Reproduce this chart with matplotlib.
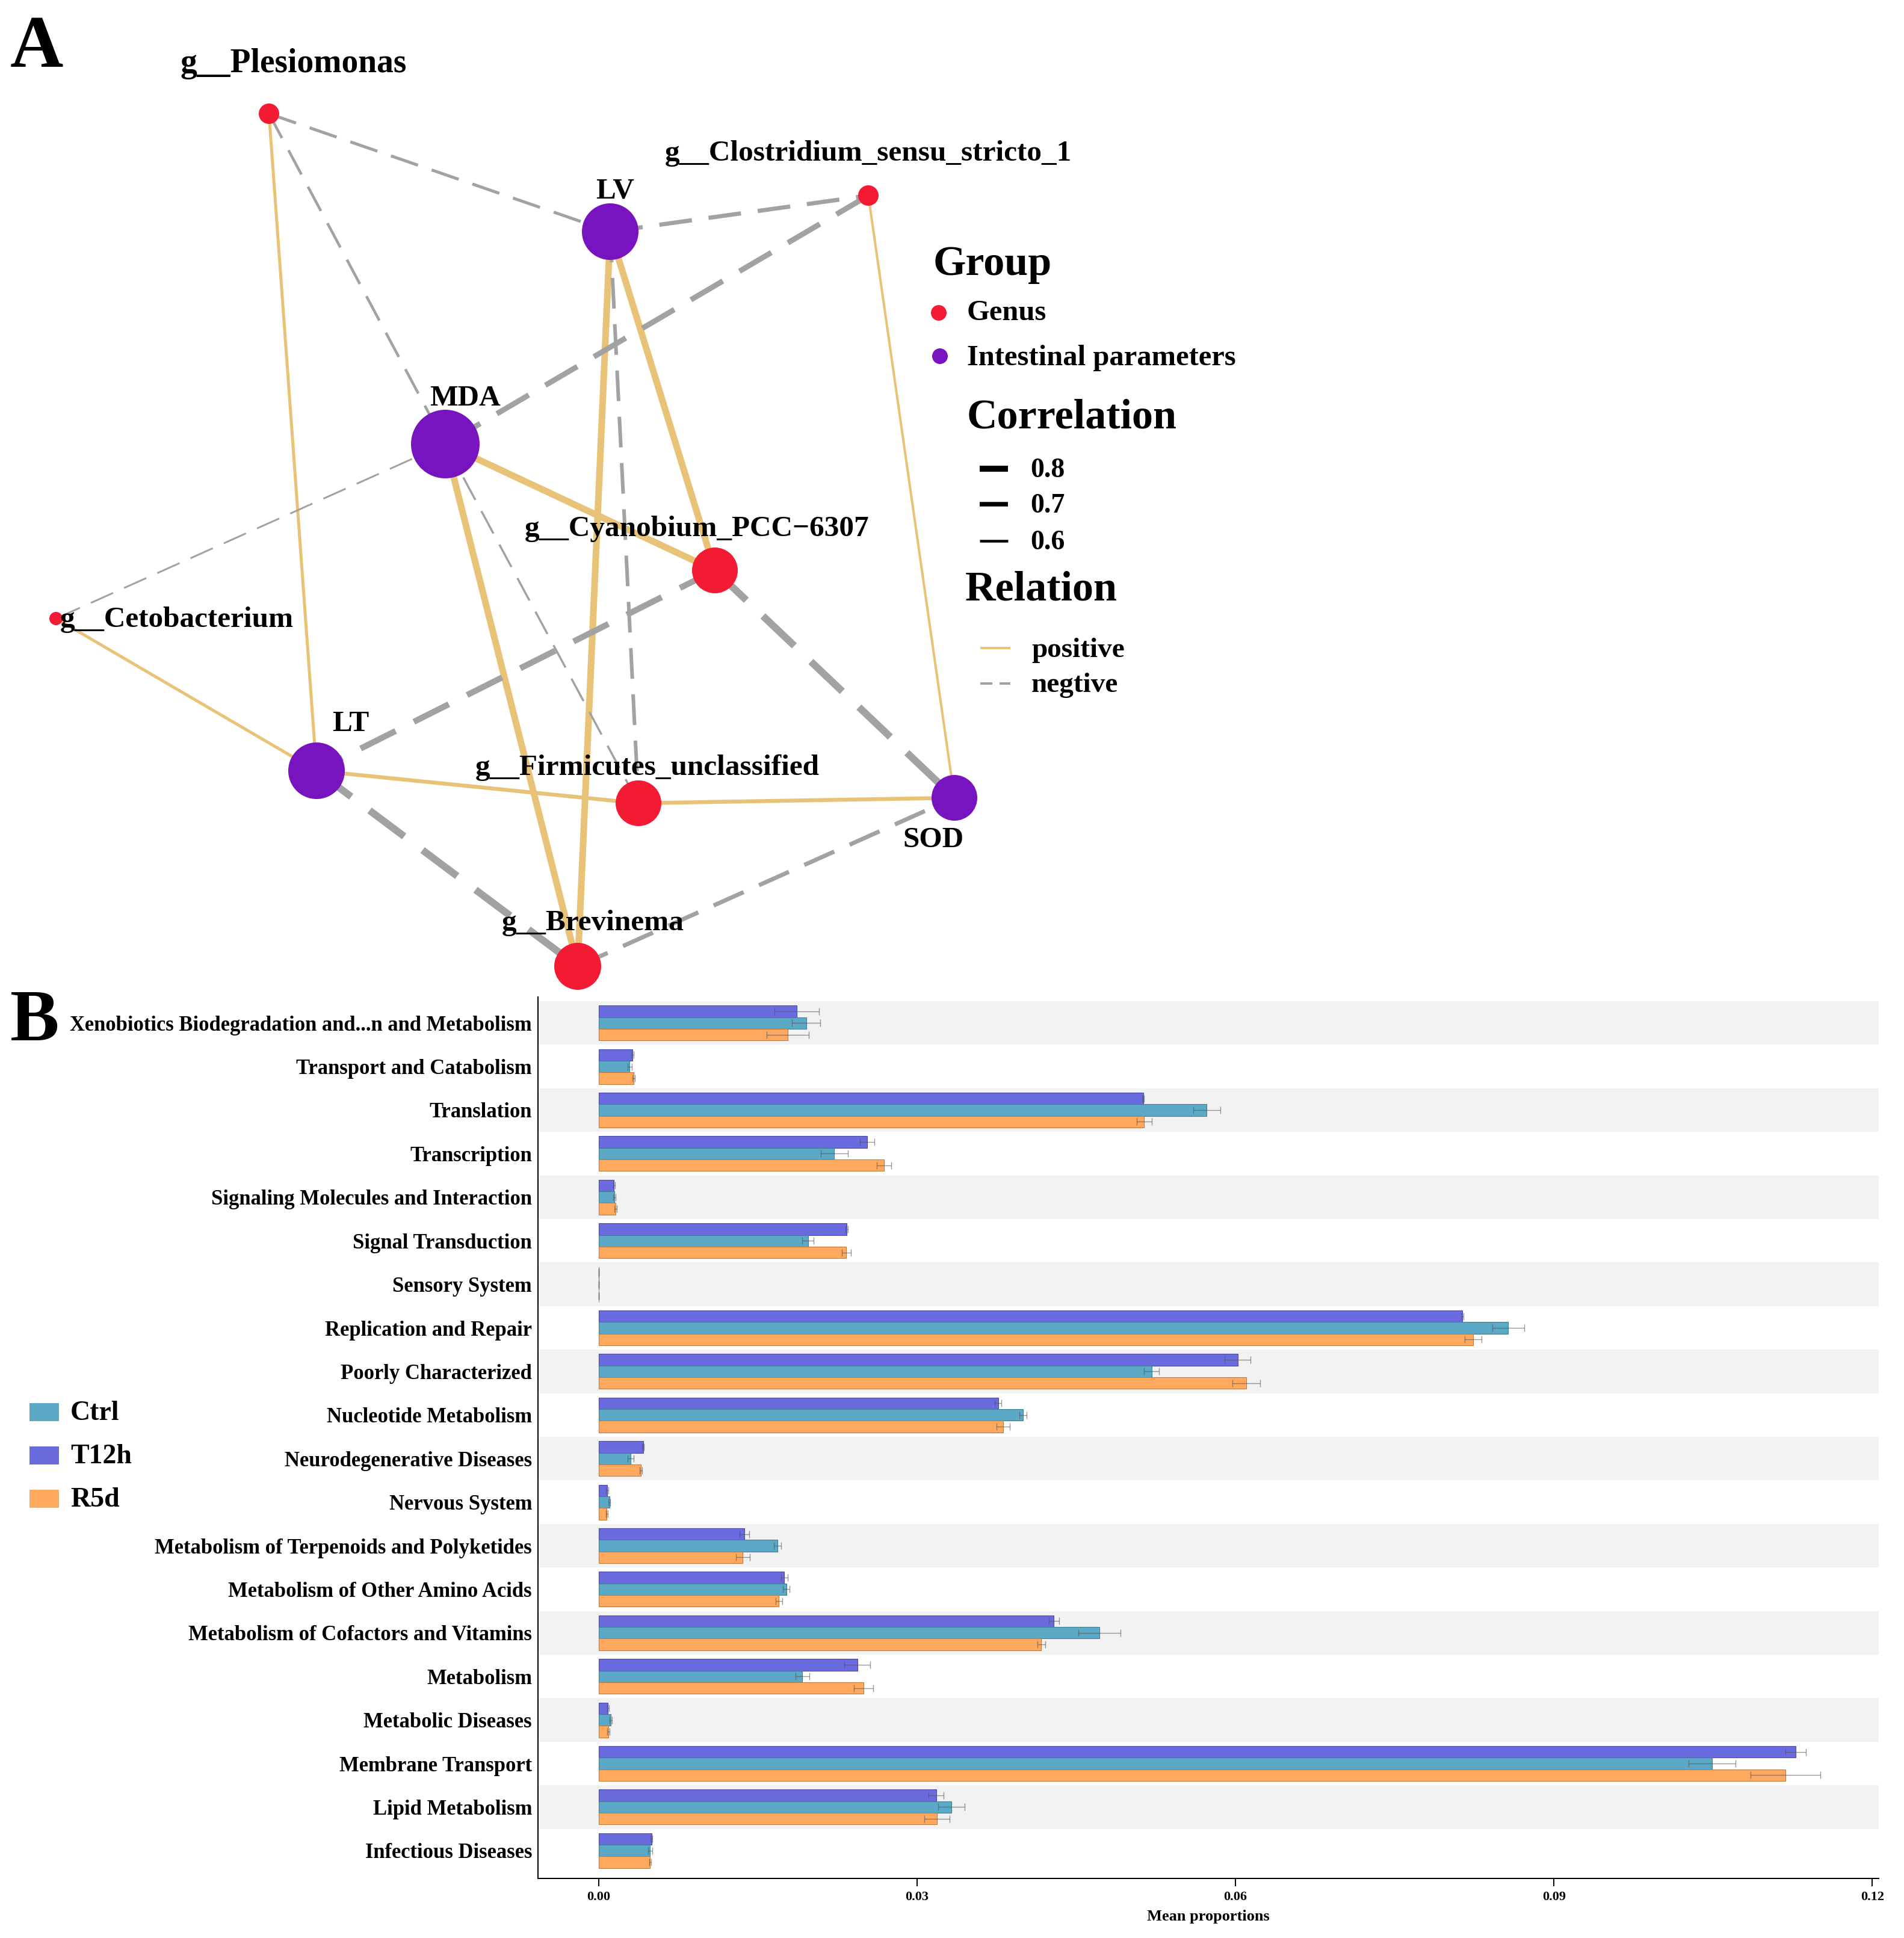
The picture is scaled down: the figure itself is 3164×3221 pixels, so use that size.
import matplotlib
matplotlib.use("Agg")
import matplotlib.pyplot as plt
from matplotlib.patches import Circle, Rectangle
import numpy as np

# ---------------- data: network (panel A) ----------------
node_names = ["g__Plesiomonas", "g__Clostridium_sensu_stricto_1", "LV", "MDA",
              "g__Cyanobium_PCC\u22126307", "g__Cetobacterium", "LT",
              "g__Firmicutes_unclassified", "SOD", "g__Brevinema"]
node_group = ["Genus", "Genus", "Intestinal", "Intestinal", "Genus", "Genus",
              "Intestinal", "Genus", "Intestinal", "Genus"]
node_x = [447, 1443, 1014, 740, 1188, 93, 526, 1061, 1586, 960]
node_y = [189, 325, 385, 738, 948, 1028, 1281, 1335, 1326, 1606]
node_r = [17, 17, 47, 57, 38, 11, 47, 38, 38, 39]

label_x = [488, 1443, 1022, 773, 1158, 100, 583, 1076, 1551, 985]
label_y = [120, 267, 329, 674, 891, 1042, 1215, 1288, 1408, 1546]
label_ha = ["center", "center", "center", "center", "center", "left",
            "center", "center", "center", "center"]
label_size = [40, 35.5, 35.5, 35.5, 35.5, 35.5, 35.5, 35.5, 35.5, 35.5]

edge_src = [0, 5, 2, 2, 3, 3, 6, 7, 1,
            0, 0, 2, 1, 3, 3, 2, 4, 4, 6, 9]
edge_dst = [6, 6, 4, 9, 4, 9, 7, 8, 8,
            2, 3, 1, 3, 5, 7, 7, 6, 8, 9, 8]
edge_sign = ["positive"] * 9 + ["negtive"] * 11
edge_w = [5, 5, 11, 11, 11, 11, 6.5, 6.5, 4,
          5, 4.5, 7, 9, 3, 3.5, 6, 10, 12, 12, 7]

# ---------------- data: bar chart (panel B) ----------------
categories = ["Xenobiotics Biodegradation and...n and Metabolism",
              "Transport and Catabolism", "Translation", "Transcription",
              "Signaling Molecules and Interaction", "Signal Transduction",
              "Sensory System", "Replication and Repair", "Poorly Characterized",
              "Nucleotide Metabolism", "Neurodegenerative Diseases",
              "Nervous System", "Metabolism of Terpenoids and Polyketides",
              "Metabolism of Other Amino Acids",
              "Metabolism of Cofactors and Vitamins", "Metabolism",
              "Metabolic Diseases", "Membrane Transport", "Lipid Metabolism",
              "Infectious Diseases"]
t12h = [0.01869, 0.00320, 0.05130, 0.02530, 0.00147, 0.02338, 0.00002, 0.08140,
        0.06020, 0.03764, 0.00420, 0.00081, 0.01373, 0.01751, 0.04290, 0.02438,
        0.00090, 0.11280, 0.03180, 0.00499]
ctrl = [0.01956, 0.00292, 0.05730, 0.02220, 0.00151, 0.01973, 0.00002, 0.08570,
        0.05210, 0.04000, 0.00303, 0.00103, 0.01686, 0.01769, 0.04720, 0.01920,
        0.00116, 0.10490, 0.03325, 0.00486]
r5d = [0.01782, 0.00330, 0.05140, 0.02690, 0.00160, 0.02334, 0.00002, 0.08240,
       0.06100, 0.03810, 0.00400, 0.00078, 0.01360, 0.01699, 0.04170, 0.02495,
       0.00092, 0.11180, 0.03190, 0.00486]
t12h_err = [0.0021, 0.0001, 0.0001, 0.0007, 0.0001, 0.0001, 0.0, 0.0001,
            0.0012, 0.0003, 0.0001, 0.0001, 0.00046, 0.0003, 0.0005, 0.0012,
            0.0001, 0.00096, 0.0007, 0.0001]
ctrl_err = [0.00135, 0.0002, 0.00128, 0.00128, 0.0001, 0.00054, 0.0, 0.0015,
            0.0007, 0.00035, 0.0003, 0.0001, 0.00033, 0.0003, 0.0020, 0.00065,
            0.0001, 0.0022, 0.00125, 0.0002]
r5d_err = [0.0020, 0.0001, 0.0007, 0.0007, 0.0001, 0.00043, 0.0, 0.0008,
           0.0013, 0.00063, 0.0001, 0.0001, 0.00065, 0.0003, 0.00037, 0.0009,
           0.0001, 0.0033, 0.0012, 0.0001]
xticks = [0.00, 0.03, 0.06, 0.09, 0.12]
legend_groups = ["Ctrl", "T12h", "R5d"]

# ---------------- style ----------------
W, H, DPI = 3164, 3221, 100
PT = 72.0 / DPI  # points per pixel
plt.rcParams["font.family"] = ["Liberation Serif", "DejaVu Serif"]
plt.rcParams["font.weight"] = "bold"
plt.rcParams["lines.scale_dashes"] = False

c_genus = "#F31A33"
c_param = "#7713BF"
c_pos = "#E8C277"
c_neg = "#A2A2A2"
c_ctrl = "#5BA9C6"
c_t12h = "#6B6BE0"
c_r5d = "#FFA95E"
col = {"Ctrl": c_ctrl, "T12h": c_t12h, "R5d": c_r5d}

fig = plt.figure(figsize=(W / DPI, H / DPI), dpi=DPI)
fig.patch.set_facecolor("white")

# overlay axes in pixel coordinates
ax0 = fig.add_axes([0, 0, 1, 1])
ax0.set_xlim(0, W)
ax0.set_ylim(H, 0)
ax0.axis("off")

# edges
for s, d, sg, w in zip(edge_src, edge_dst, edge_sign, edge_w):
    xs = [node_x[s], node_x[d]]
    ys = [node_y[s], node_y[d]]
    if sg == "positive":
        ax0.plot(xs, ys, color=c_pos, lw=w * PT, solid_capstyle="butt", zorder=2)
    else:
        on = (30 + 3.5 * w) * PT
        off = (14 + 2.0 * w) * PT
        ax0.plot(xs, ys, color=c_neg, lw=w * PT, linestyle=(0, (on, off)),
                 dash_capstyle="butt", zorder=2)

# nodes
for x, y, r, g in zip(node_x, node_y, node_r, node_group):
    ax0.add_patch(Circle((x, y), r, facecolor=c_genus if g == "Genus" else c_param,
                         edgecolor="none", zorder=3))

# node labels
for name, x, y, ha, fs in zip(node_names, label_x, label_y, label_ha, label_size):
    ax0.text(x, y, name, ha=ha, va="baseline", fontsize=fs, fontweight="bold",
             zorder=4)

# panel letters
ax0.text(17, 111, "A", fontsize=88, fontweight="bold", va="baseline", ha="left")
ax0.text(17, 1729, "B", fontsize=88, fontweight="bold", va="baseline", ha="left")

# network legend
ax0.text(1551, 457, "Group", fontsize=50.5, fontweight="bold", va="baseline")
ax0.add_patch(Circle((1560, 520), 13, facecolor=c_genus, edgecolor="none"))
ax0.text(1607, 532, "Genus", fontsize=35, fontweight="bold", va="baseline")
ax0.add_patch(Circle((1562, 592), 13, facecolor=c_param, edgecolor="none"))
ax0.text(1607, 607, "Intestinal parameters", fontsize=35, fontweight="bold",
         va="baseline")
ax0.text(1607, 712, "Correlation", fontsize=50.5, fontweight="bold", va="baseline")
for val, yy, lw in zip(["0.8", "0.7", "0.6"], [779, 838, 899], [10, 7.5, 4.5]):
    ax0.plot([1628, 1675], [yy, yy], color="black", lw=lw * PT,
             solid_capstyle="butt")
    ax0.text(1712, yy + 14, val, fontsize=33, fontweight="bold", va="baseline")
ax0.text(1604, 998, "Relation", fontsize=50.5, fontweight="bold", va="baseline")
ax0.plot([1629, 1679], [1077, 1077], color=c_pos, lw=4 * PT, solid_capstyle="butt")
ax0.text(1714, 1092, "positive", fontsize=34, fontweight="bold", va="baseline")
ax0.plot([1629, 1679], [1136, 1136], color=c_neg, lw=4 * PT,
         linestyle=(0, (20 * PT, 12 * PT)), dash_capstyle="butt")
ax0.text(1714, 1150, "negtive", fontsize=34, fontweight="bold", va="baseline")

# bar legend
for i, g in enumerate(legend_groups):
    yy = 2332 + i * 72
    ax0.add_patch(Rectangle((49, yy), 49, 30, facecolor=col[g], edgecolor="none"))
    ax0.text(117, yy + 28, g, fontsize=33, fontweight="bold", va="baseline")

# ---------------- bar chart ----------------
L, R, T, B = 894, 3122, 1657, 3122
ax = fig.add_axes([L / W, 1 - B / H, (R - L) / W, (B - T) / H])
n = len(categories)
y = np.arange(n)
bh = 0.267
for i in range(n):
    if i % 2 == 0:
        ax.axhspan(i - 0.5, i + 0.5, color="#F2F2F2", lw=0, zorder=0)

series = [("T12h", t12h, t12h_err, -bh), ("Ctrl", ctrl, ctrl_err, 0.0),
          ("R5d", r5d, r5d_err, bh)]
edge_cols = {"T12h": "#4A4AA8", "Ctrl": "#3E7F96", "R5d": "#C07A3C"}
for name, vals, errs, off in series:
    ax.barh(y + off, vals, height=bh, color=col[name], edgecolor=edge_cols[name],
            linewidth=0.8, zorder=2)
    ax.errorbar(vals, y + off, xerr=errs, fmt="none", ecolor="#555555",
                elinewidth=1.0, capsize=4, capthick=1.0, alpha=0.6, zorder=3)

ax.set_ylim(n - 0.5 + 10 / 72.4, -0.5 - 7 / 72.4)
ax.set_xlim(-0.0057, 0.1206)
ax.set_yticks(y)
ax.set_yticklabels(categories, fontsize=24.9, fontweight="bold")
ax.set_xticks(xticks)
ax.set_xticklabels([f"{v:.2f}" for v in xticks], fontsize=16, fontweight="bold")
ax.tick_params(axis="y", length=0, pad=10 * PT)
ax.tick_params(axis="x", length=13 * PT, width=2 * PT, direction="out", pad=6)
ax.set_xlabel("Mean proportions", fontsize=19, fontweight="bold", labelpad=8)
for s in ["top", "right"]:
    ax.spines[s].set_visible(False)
for s in ["left", "bottom"]:
    ax.spines[s].set_linewidth(2 * PT)
ax.set_facecolor("white")

fig.savefig("out.png", dpi=DPI)
